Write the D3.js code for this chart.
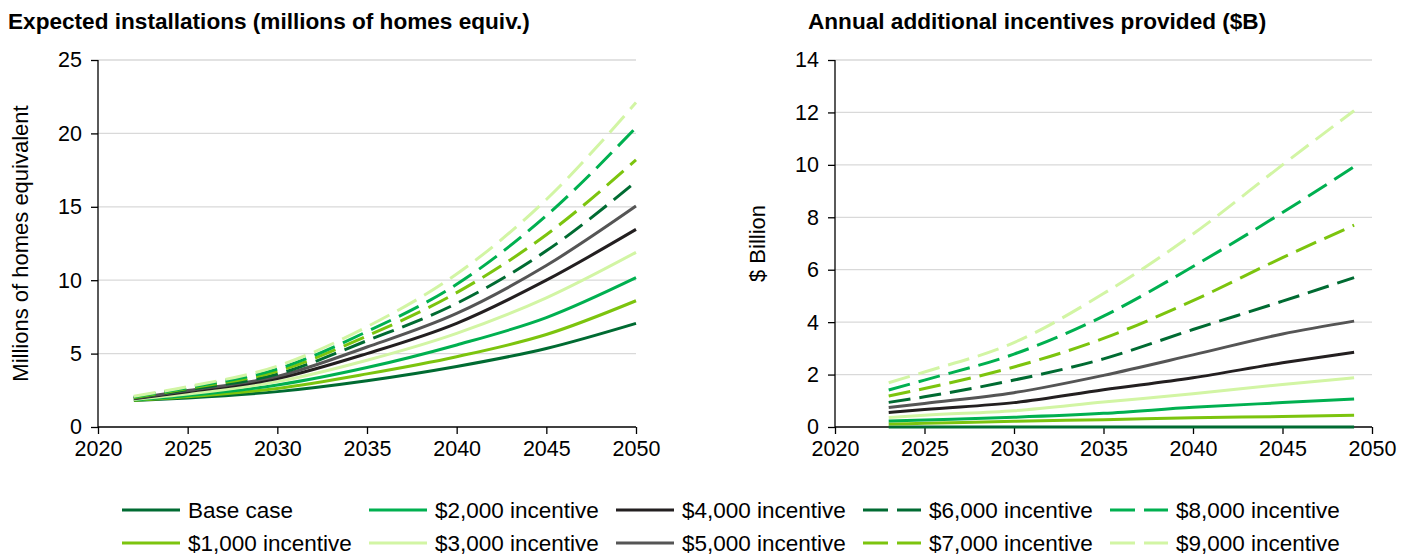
<!DOCTYPE html>
<html><head><meta charset="utf-8">
<script src="https://cdn.jsdelivr.net/npm/d3@7"></script>
<style>
body{margin:0;background:#fff;}
svg text{font-family:"Liberation Sans",Arial,sans-serif;fill:#000;}
</style></head>
<body><svg id="c" width="1416" height="560"></svg>
<script>
// ---- data ----
const seriesNames = ["Base case","$1,000 incentive","$2,000 incentive","$3,000 incentive","$4,000 incentive","$5,000 incentive","$6,000 incentive","$7,000 incentive","$8,000 incentive","$9,000 incentive"];
const seriesColors = ["#006b32","#7cc40e","#00b050","#d2f5a4","#231f20","#555555","#006b32","#7cc40e","#00b050","#d2f5a4"];
const seriesDashed = [false,false,false,false,false,false,true,true,true,true];

const yearsLeft = [2022, 2025, 2030, 2035, 2040, 2045, 2050];
const installBase = [1.80, 1.98, 2.41, 3.15, 4.12, 5.35, 7.06];
const install1k   = [1.82, 2.06, 2.63, 3.62, 4.79, 6.30, 8.60];
const install2k   = [1.85, 2.14, 2.86, 4.05, 5.59, 7.45, 10.17];
const install3k   = [1.88, 2.24, 3.09, 4.55, 6.38, 8.80, 11.90];
const install4k   = [1.92, 2.40, 3.30, 5.00, 7.06, 10.00, 13.46];
const install5k   = [1.95, 2.48, 3.45, 5.45, 7.74, 11.00, 15.05];
const install6k   = [1.98, 2.55, 3.60, 5.88, 8.42, 12.00, 16.71];
const install7k   = [2.00, 2.62, 3.80, 6.20, 9.15, 13.10, 18.19];
const install8k   = [2.05, 2.68, 3.95, 6.50, 9.72, 14.40, 20.40];
const install9k   = [2.10, 2.75, 4.15, 6.83, 10.42, 15.50, 22.10];

const yearsRight = [2023, 2025, 2030, 2035, 2040, 2045, 2049];
const incentBase = [0, 0, 0, 0, 0, 0, 0];
const incent1k   = [0.11, 0.14, 0.22, 0.28, 0.35, 0.40, 0.45];
const incent2k   = [0.23, 0.27, 0.37, 0.52, 0.75, 0.93, 1.07];
const incent3k   = [0.36, 0.45, 0.62, 0.95, 1.27, 1.62, 1.88];
const incent4k   = [0.55, 0.67, 0.93, 1.42, 1.88, 2.45, 2.85];
const incent5k   = [0.74, 0.90, 1.31, 1.97, 2.75, 3.55, 4.04];
const incent6k   = [0.94, 1.15, 1.79, 2.60, 3.72, 4.80, 5.70];
const incent7k   = [1.18, 1.47, 2.29, 3.38, 4.82, 6.46, 7.70];
const incent8k   = [1.41, 1.79, 2.78, 4.23, 6.12, 8.18, 9.93];
const incent9k   = [1.69, 2.10, 3.22, 5.09, 7.36, 10.00, 12.07];

const xTicks = [2020, 2025, 2030, 2035, 2040, 2045, 2050];
const yTicksLeft = [0, 5, 10, 15, 20, 25];
const yTicksRight = [0, 2, 4, 6, 8, 10, 12, 14];

const leftSeries = [installBase, install1k, install2k, install3k, install4k, install5k, install6k, install7k, install8k, install9k];
const rightSeries = [incentBase, incent1k, incent2k, incent3k, incent4k, incent5k, incent6k, incent7k, incent8k, incent9k];

// ---- drawing ----
const svg = d3.select("#c");
const FS = 21.5;

function panel(opts){
  const x = d3.scaleLinear().domain([2020, 2050]).range([opts.x0, opts.x1]);
  const y = d3.scaleLinear().domain([0, opts.ymax]).range([427, 60]);
  const g = svg.append("g");
  g.selectAll("line.grid").data(opts.yTicks.filter(d => d > 0)).enter().append("line")
    .attr("x1", opts.x0).attr("x2", opts.x1)
    .attr("y1", d => y(d)).attr("y2", d => y(d))
    .attr("stroke", "#d9d9d9").attr("stroke-width", 1.3);
  const ya = g.append("g").attr("transform", `translate(${opts.x0},0)`)
    .call(d3.axisLeft(y).tickValues(opts.yTicks).tickSize(7).tickPadding(9).tickFormat(d3.format("d")));
  const xa = g.append("g").attr("transform", `translate(0,427)`)
    .call(d3.axisBottom(x).tickValues(xTicks).tickSize(7).tickPadding(7).tickFormat(d3.format("d")));
  [ya, xa].forEach(a => {
    a.select(".domain").attr("stroke", "#000").attr("stroke-width", 1.3);
    a.selectAll(".tick line").attr("stroke", "#000").attr("stroke-width", 1.3);
    a.selectAll(".tick text").style("font-size", FS + "px").style("font-family", '"Liberation Sans",Arial,sans-serif').attr("fill", "#000");
  });
  xa.select(".domain").attr("d", `M${opts.x0},0H${opts.x1}`);
  ya.select(".domain").attr("d", `M0,${y(0)}V${y(opts.ymax)}`);
  g.append("text").attr("transform", `translate(${opts.labelX},${(60 + 427) / 2}) rotate(-90)`)
    .attr("text-anchor", "middle").style("font-size", "22px").text(opts.yLabel);
  g.append("text").attr("x", opts.titleX).attr("y", 29).style("font-size", "22.6px").style("font-weight", "bold").text(opts.title);
  const line = d3.line().x(d => x(d[0])).y(d => y(d[1])).curve(d3.curveMonotoneX);
  opts.series.forEach((vals, i) => {
    const pts = opts.years.map((yr, j) => [yr, vals[j]]);
    g.append("path").attr("d", line(pts)).attr("fill", "none")
      .attr("stroke", seriesColors[i]).attr("stroke-width", 3)
      .attr("stroke-dasharray", seriesDashed[i] ? "22,9" : null);
  });
}

panel({x0: 98, x1: 636, ymax: 25, yTicks: yTicksLeft, years: yearsLeft, series: leftSeries,
  yLabel: "Millions of homes equivalent", labelX: 28, title: "Expected installations (millions of homes equiv.)", titleX: 8});
panel({x0: 835, x1: 1372, ymax: 14, yTicks: yTicksRight, years: yearsRight, series: rightSeries,
  yLabel: "$ Billion", labelX: 765, title: "Annual additional incentives provided ($B)", titleX: 808});

// legend
const legendOrder = [0, 2, 4, 6, 8, 1, 3, 5, 7, 9];
const lg = svg.append("g");
legendOrder.forEach((si, k) => {
  const col = k % 5, row = Math.floor(k / 5);
  const lx = 122 + col * 247, ly = 510 + row * 33;
  lg.append("line").attr("x1", lx).attr("x2", lx + 58).attr("y1", ly).attr("y2", ly)
    .attr("stroke", seriesColors[si]).attr("stroke-width", 3)
    .attr("stroke-dasharray", seriesDashed[si] ? "25,9" : null);
  lg.append("text").attr("x", lx + 66).attr("y", ly + 8).style("font-size", "22.5px").text(seriesNames[si]);
});
</script></body></html>
